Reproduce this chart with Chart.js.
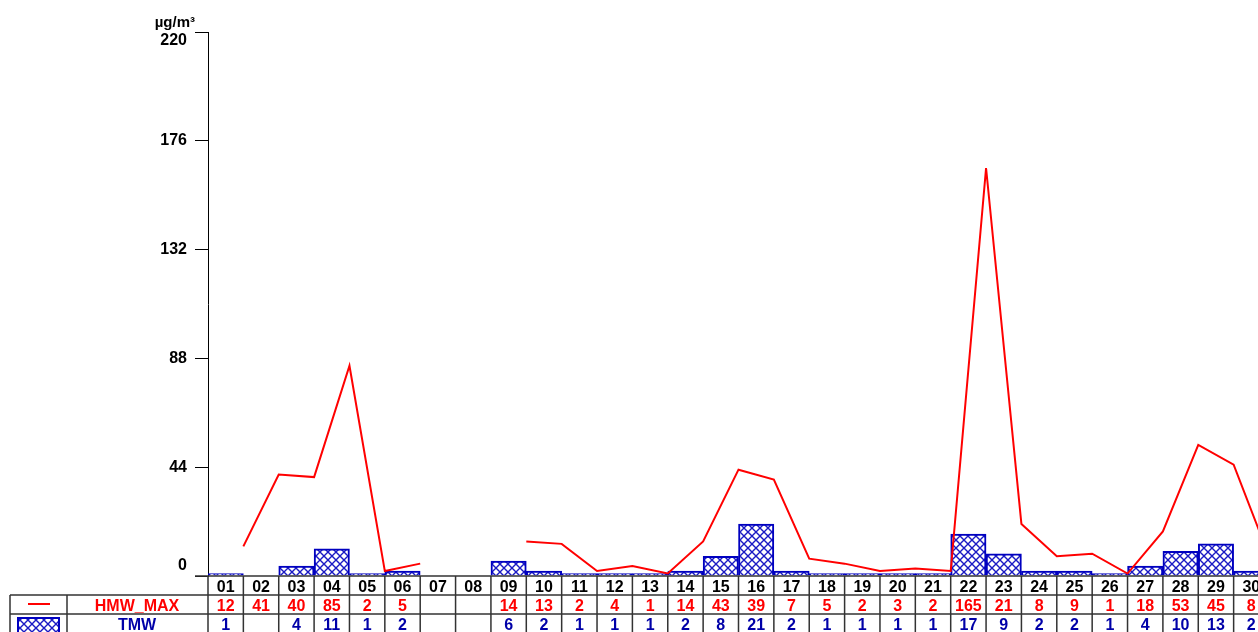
<!DOCTYPE html>
<html>
<head>
<meta charset="utf-8">
<script src="https://cdn.jsdelivr.net/npm/chart.js@4/dist/chart.umd.min.js"></script>
<style>
  html, body { margin: 0; padding: 0; background: #fff; overflow: hidden; }
  #wrap { width: 1258px; height: 632px; overflow: hidden; position: relative; }
</style>
</head>
<body>
<div id="wrap"><canvas id="chart" width="1272" height="660"></canvas></div>
<script>
// --- data ---
const days = ['01','02','03','04','05','06','07','08','09','10','11','12','13','14','15',
              '16','17','18','19','20','21','22','23','24','25','26','27','28','29','30'];
const hmwMax = [12, 41, 40, 85, 2, 5, null, null, 14, 13, 2, 4, 1, 14, 43,
                39, 7, 5, 2, 3, 2, 165, 21, 8, 9, 1, 18, 53, 45, 8];
const tmw = [1, null, 4, 11, 1, 2, null, null, 6, 2, 1, 1, 1, 2, 8,
             21, 2, 1, 1, 1, 1, 17, 9, 2, 2, 1, 4, 10, 13, 2];
const yTicks = [0, 44, 88, 132, 176, 220];
const unitLabel = 'µg/m³';
const seriesNames = ['HMW_MAX', 'TMW'];

const RED = '#ff0000';
const BLUE = '#0000c0';
const TXT_BLUE = '#0000a8';
const FONT = '"Liberation Sans", Arial, sans-serif';

const canvas = document.getElementById('chart');
const ctx = canvas.getContext('2d');

// cross hatch fill for the TMW bars
function hatch() {
  const s = 8;
  const c = document.createElement('canvas');
  c.width = s; c.height = s;
  const g = c.getContext('2d');
  g.fillStyle = '#fff';
  g.fillRect(0, 0, s, s);
  g.strokeStyle = '#1a1ac4';
  g.lineWidth = 1.4;
  g.beginPath();
  g.moveTo(-1, -1); g.lineTo(s + 1, s + 1);
  g.moveTo(s + 1, -1); g.lineTo(-1, s + 1);
  g.stroke();
  return ctx.createPattern(c, 'repeat');
}
const pattern = hatch();

// y labels, unit and the data table under the plot
const tablePlugin = {
  id: 'table',
  afterDraw(chart) {
    const c = chart.ctx;
    const y = chart.scales.y;
    const x2 = chart.scales.x2;
    const area = chart.chartArea;
    const W = chart.width, H = chart.height;
    const base = area.bottom;
    const r1 = base + 19, r2 = base + 38;
    c.save();

    // y tick labels
    c.font = 'bold 16px ' + FONT;
    c.fillStyle = '#000';
    c.textAlign = 'right';
    c.textBaseline = 'middle';
    yTicks.forEach(v => {
      let py = y.getPixelForValue(v);
      if (v === yTicks[yTicks.length - 1]) py += 9;
      if (v === 0) py -= 10;
      c.fillText(String(v), area.left - 21, py);
    });
    c.font = 'bold 15px ' + FONT;
    c.textBaseline = 'alphabetic';
    c.fillText(unitLabel, area.left - 13, area.top - 5);

    // grid of the table
    c.strokeStyle = '#333';
    c.lineWidth = 1.5;
    c.beginPath();
    c.moveTo(area.left - 13, base); c.lineTo(W, base);
    c.moveTo(10, r1); c.lineTo(W, r1);
    c.moveTo(10, r2); c.lineTo(W, r2);
    c.moveTo(10, r1); c.lineTo(10, H);
    c.moveTo(67, r1); c.lineTo(67, H);
    for (let k = 0; k <= days.length; k++) {
      const px = x2.getPixelForValue(k);
      c.moveTo(px, base); c.lineTo(px, H);
    }
    c.stroke();

    // legend cells
    c.strokeStyle = RED;
    c.lineWidth = 2;
    c.beginPath();
    c.moveTo(28, r1 + 9); c.lineTo(50, r1 + 9);
    c.stroke();
    c.fillStyle = pattern;
    c.fillRect(17, r2 + 3, 43, 30);
    c.strokeStyle = BLUE;
    c.lineWidth = 2;
    c.strokeRect(18, r2 + 4, 41, 28);

    c.textAlign = 'center';
    c.textBaseline = 'middle';
    c.font = 'bold 16px ' + FONT;
    c.fillStyle = RED;
    c.fillText(seriesNames[0], 137, r1 + 12);
    c.fillStyle = TXT_BLUE;
    c.fillText(seriesNames[1], 137, r2 + 12);

    // day labels and values
    days.forEach((d, i) => {
      const cx = x2.getPixelForValue(i + 0.5);
      c.fillStyle = '#000';
      c.fillText(d, cx, base + 12);
      if (hmwMax[i] != null) {
        c.fillStyle = RED;
        c.fillText(String(hmwMax[i]), cx, r1 + 12);
      }
      if (tmw[i] != null) {
        c.fillStyle = TXT_BLUE;
        c.fillText(String(tmw[i]), cx, r2 + 12);
      }
    });
    c.restore();
  }
};

new Chart(ctx, {
  data: {
    labels: days,
    datasets: [
      {
        type: 'line',
        label: seriesNames[0],
        data: hmwMax.map((v, i) => ({ x: i + 1, y: v })),
        xAxisID: 'x2',
        borderColor: RED,
        borderWidth: 2,
        pointRadius: 0,
        tension: 0,
        spanGaps: false,
        order: 0
      },
      {
        type: 'bar',
        label: seriesNames[1],
        data: tmw,
        xAxisID: 'x',
        backgroundColor: pattern,
        borderColor: BLUE,
        borderWidth: 2,
        grouped: false,
        barPercentage: 1,
        categoryPercentage: 1,
        order: 1
      }
    ]
  },
  options: {
    responsive: false,
    animation: false,
    events: [],
    layout: { padding: { left: 0, right: 3, top: 32, bottom: 84 } },
    plugins: { legend: { display: false }, tooltip: { enabled: false } },
    scales: {
      x: { type: 'category', display: false, offset: true },
      x2: { type: 'linear', display: false, min: 0, max: days.length },
      y: {
        min: 0,
        max: 220,
        ticks: { stepSize: 44, display: false },
        grid: { drawOnChartArea: false, drawTicks: true, tickLength: 13, color: '#000' },
        border: { display: true, color: '#000', width: 1 },
        afterFit(s) { s.width = 208; }
      }
    }
  },
  plugins: [tablePlugin]
});
</script>
</body>
</html>
